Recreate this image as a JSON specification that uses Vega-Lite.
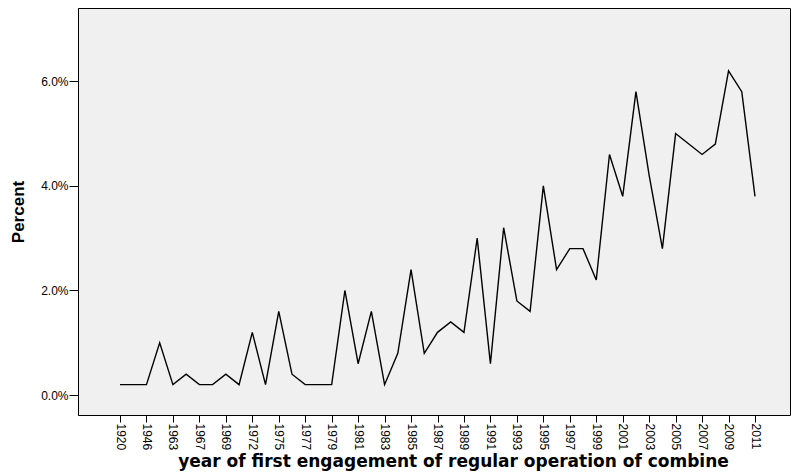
{
  "$schema": "https://vega.github.io/schema/vega-lite/v6.json",
  "autosize": "none",
  "width": 712,
  "height": 407,
  "padding": {"left": 78, "top": 8, "right": 1, "bottom": 58},
  "background": "white",
  "config": {
    "view": {"fill": "#f0f0f0", "stroke": "black", "strokeWidth": 1},
    "axis": {"labelFont": "Liberation Sans", "titleFont": "Liberation Sans", "labelColor": "black", "titleColor": "black", "domainColor": "black", "tickColor": "black", "grid": false}
  },
  "data": {"values": [
    {"year": "1920", "pct": 0.002},
    {"year": "1940", "pct": 0.002},
    {"year": "1946", "pct": 0.002},
    {"year": "1960", "pct": 0.010},
    {"year": "1963", "pct": 0.002},
    {"year": "1966", "pct": 0.004},
    {"year": "1967", "pct": 0.002},
    {"year": "1968", "pct": 0.002},
    {"year": "1969", "pct": 0.004},
    {"year": "1970", "pct": 0.002},
    {"year": "1972", "pct": 0.012},
    {"year": "1974", "pct": 0.002},
    {"year": "1975", "pct": 0.016},
    {"year": "1976", "pct": 0.004},
    {"year": "1977", "pct": 0.002},
    {"year": "1978", "pct": 0.002},
    {"year": "1979", "pct": 0.002},
    {"year": "1980", "pct": 0.020},
    {"year": "1981", "pct": 0.006},
    {"year": "1982", "pct": 0.016},
    {"year": "1983", "pct": 0.002},
    {"year": "1984", "pct": 0.008},
    {"year": "1985", "pct": 0.024},
    {"year": "1986", "pct": 0.008},
    {"year": "1987", "pct": 0.012},
    {"year": "1988", "pct": 0.014},
    {"year": "1989", "pct": 0.012},
    {"year": "1990", "pct": 0.030},
    {"year": "1991", "pct": 0.006},
    {"year": "1992", "pct": 0.032},
    {"year": "1993", "pct": 0.018},
    {"year": "1994", "pct": 0.016},
    {"year": "1995", "pct": 0.040},
    {"year": "1996", "pct": 0.024},
    {"year": "1997", "pct": 0.028},
    {"year": "1998", "pct": 0.028},
    {"year": "1999", "pct": 0.022},
    {"year": "2000", "pct": 0.046},
    {"year": "2001", "pct": 0.038},
    {"year": "2002", "pct": 0.058},
    {"year": "2003", "pct": 0.042},
    {"year": "2004", "pct": 0.028},
    {"year": "2005", "pct": 0.050},
    {"year": "2006", "pct": 0.048},
    {"year": "2007", "pct": 0.046},
    {"year": "2008", "pct": 0.048},
    {"year": "2009", "pct": 0.062},
    {"year": "2010", "pct": 0.058},
    {"year": "2011", "pct": 0.038}
  ]},
  "mark": {"type": "line", "color": "black", "strokeWidth": 1.4, "clip": true},
  "encoding": {
    "x": {
      "field": "year", "type": "ordinal", "sort": null,
      "scale": {"type": "point", "range": [42, 677], "padding": 0},
      "axis": {
        "values": ["1920","1946","1963","1967","1969","1972","1975","1977","1979","1981","1983","1985","1987","1989","1991","1993","1995","1997","1999","2001","2003","2005","2007","2009","2011"],
        "labelAngle": 90, "labelFontSize": 12, "tickSize": 7, "labelPadding": 1,
        "title": "year of first engagement of regular operation of combine",
        "titleFont": "DejaVu Sans", "titleFontSize": 17, "titleFontWeight": "bold", "titlePadding": 4, "titleX": 375
      }
    },
    "y": {
      "field": "pct", "type": "quantitative",
      "scale": {"domain": [-0.0038, 0.0740], "nice": false, "zero": false},
      "axis": {
        "values": [0, 0.02, 0.04, 0.06], "format": ".1%",
        "labelFontSize": 12, "tickSize": 9, "labelPadding": 1,
        "title": "Percent", "titleFontSize": 17, "titleFontWeight": "bold", "titlePadding": 13
      }
    }
  }
}
